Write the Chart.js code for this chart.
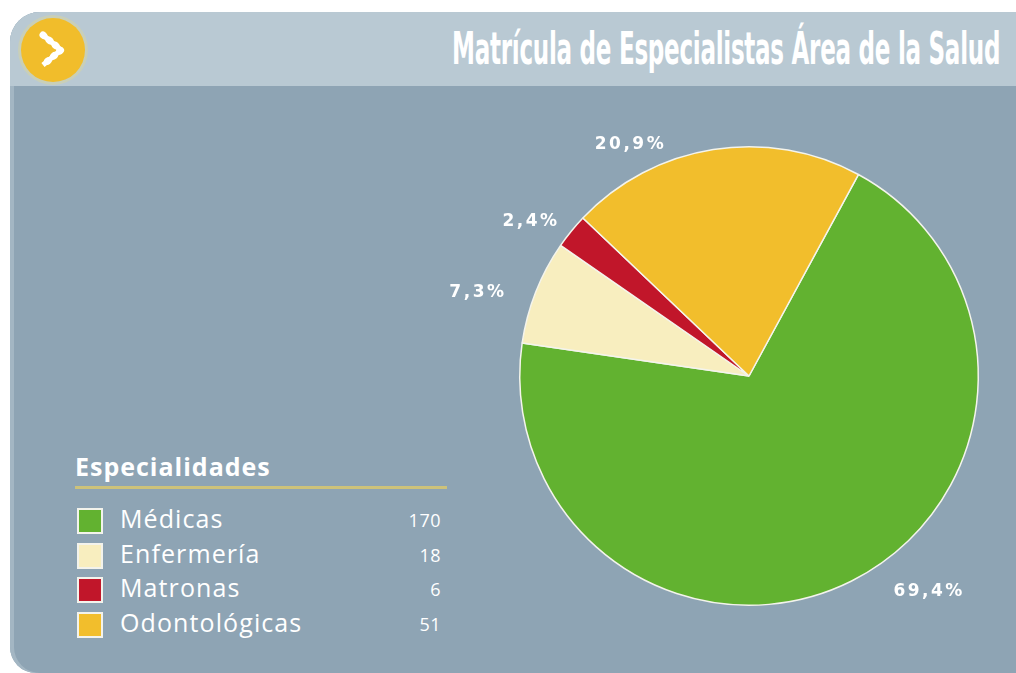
<!DOCTYPE html>
<html>
<head>
<meta charset="utf-8">
<script src="https://cdn.jsdelivr.net/npm/chart.js@4/dist/chart.umd.min.js"></script>
<style>
  html, body { margin: 0; padding: 0; background: #fff; width: 1016px; height: 673px; overflow: hidden; }
  #panel { position: absolute; left: 10px; top: 12px; width: 1016px; height: 661px;
           background: #8ea4b4; border-radius: 30px 0 0 26px; overflow: hidden;
           box-shadow: inset 4px 0 0 #a3b6c3; }
  #header { position: absolute; left: 0; top: 0; width: 100%; height: 74px; background: #b9c9d3; }
  #icon { position: absolute; left: 11px; top: 6px; width: 64px; height: 64px; border-radius: 50%;
          background: #f1bd2b; box-shadow: 0 0 0 3px #c9cfb8; }
  #title { position: absolute; right: 26px; top: 15px; white-space: nowrap; color: #fff;
           font-family: "Liberation Sans Narrow", "DejaVu Sans Condensed", sans-serif; font-weight: bold;
           font-size: 45px; line-height: 44px; transform-origin: right top; letter-spacing: -0.5px; }
  #legend { position: absolute; left: 65px; top: 436px; width: 372px; color: #fff;
            font-family: "Open Sans", sans-serif; }
  #legend h3 { margin: 0; font-size: 25px; font-weight: bold; letter-spacing: 1px; line-height: 36px;
               border-bottom: 3px solid #cdc27a; padding-bottom: 2px; }
  .row { position: relative; height: 34.5px; line-height: 34px; font-size: 25px; letter-spacing: 1.1px; }
  .row .sw { position: absolute; left: 2px; top: 5px; width: 22px; height: 22px; border: 2px solid #f3f3ec; box-sizing: border-box; width: 26px; height: 26px; }
  .row .lb { position: absolute; left: 45px; top: -2px; }
  .row .vl { position: absolute; right: 6px; top: 0px; font-size: 18px; letter-spacing: 0.5px; }
  #chartBox { position: absolute; left: 430px; top: 70px; width: 586px; height: 603px; }
</style>
</head>
<body>
<div id="panel">
  <div id="header">
    <div id="icon">
      <svg width="64" height="64" viewBox="0 0 64 64">
        <polyline points="22,17 40,32 22,47" fill="none" stroke="#fff" stroke-width="7"
                  stroke-linecap="round" stroke-linejoin="round" stroke-dasharray="1 7"/>
        <polyline points="22,17 40,32 22,47" fill="none" stroke="#fff" stroke-width="5"
                  stroke-linejoin="round"/>
      </svg>
    </div>
    <div id="title">Matrícula de Especialistas Área de la Salud</div>
  </div>
  <div id="legend"><h3>Especialidades</h3><div id="rows" style="margin-top:14px"></div></div>
</div>
<div id="chartBox"><canvas id="pie"></canvas></div>

<script>
// datos
const categories = ['Médicas', 'Enfermería', 'Matronas', 'Odontológicas'];
const values = [170, 18, 6, 51];
const percents = ['69,4%', '7,3%', '2,4%', '20,9%'];
const colors = ['#62b230', '#f8eebf', '#c1162a', '#f2be2c'];

// ajuste de las etiquetas (grados y distancia relativa al radio)
const labelShift = [-13.5, -4, -3.5, -18];
const labelDist = [1.22, 1.24, 1.17, 1.14];

// titulo: ajustar al ancho
const title = document.getElementById('title');
title.style.transform = 'scaleX(' + (548 / title.scrollWidth) + ')';

// leyenda
const rows = document.getElementById('rows');
categories.forEach((c, i) => {
  const r = document.createElement('div');
  r.className = 'row';
  r.innerHTML = '<span class="sw" style="background:' + colors[i] + '"></span>' +
    '<span class="lb">' + c + '</span><span class="vl">' + values[i] + '</span>';
  rows.appendChild(r);
});

// etiquetas de porcentaje
const pctLabels = {
  id: 'pctLabels',
  afterDatasetsDraw(chart) {
    const ctx = chart.ctx;
    const meta = chart.getDatasetMeta(0);
    ctx.save();
    ctx.fillStyle = '#fff';
    ctx.font = 'bold 17px "DejaVu Sans", sans-serif';
    ctx.letterSpacing = '2.5px';
    ctx.textAlign = 'center';
    ctx.textBaseline = 'middle';
    meta.data.forEach((arc, i) => {
      const mid = (arc.startAngle + arc.endAngle) / 2 + labelShift[i] * Math.PI / 180;
      const d = arc.outerRadius * labelDist[i];
      ctx.fillText(percents[i], arc.x + Math.cos(mid) * d, arc.y + Math.sin(mid) * d + 2);
    });
    ctx.restore();
  }
};

const pie = new Chart(document.getElementById('pie'), {
  type: 'pie',
  data: {
    labels: categories,
    datasets: [{
      data: values,
      backgroundColor: colors,
      borderColor: '#f4f4ec',
      borderWidth: 1.5
    }]
  },
  options: {
    responsive: true,
    maintainAspectRatio: false,
    animation: false,
    rotation: 28.5,
    layout: { padding: { left: 89, right: 37, top: 76, bottom: 67 } },
    plugins: {
      legend: { display: false },
      tooltip: { enabled: false }
    }
  },
  plugins: [pctLabels]
});
</script>
</body>
</html>
